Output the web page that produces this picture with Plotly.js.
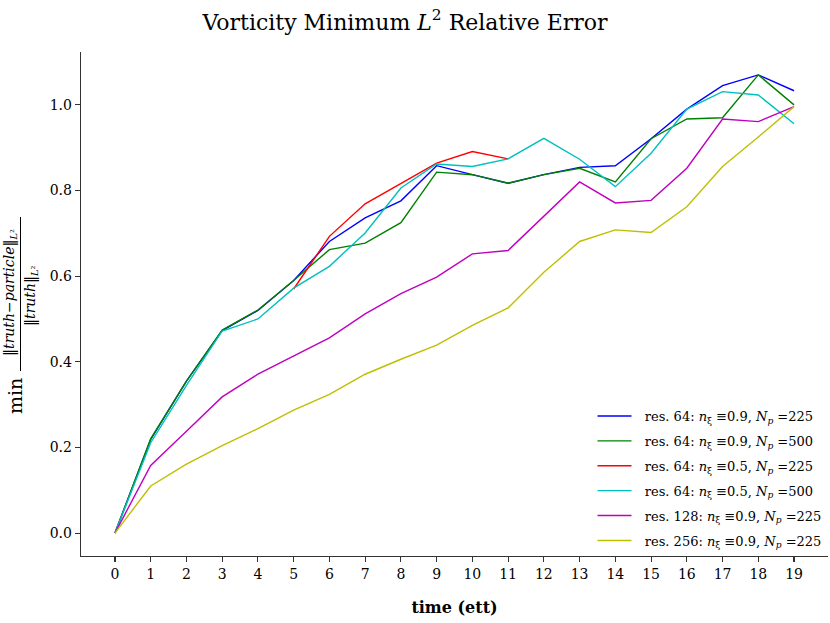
<!DOCTYPE html>
<html>
<head>
<meta charset="utf-8">
<script src="https://cdn.plot.ly/plotly-3.0.1.min.js"></script>
<style>html,body{margin:0;padding:0;background:#fff;}#chart{width:830px;height:623px;}</style>
</head>
<body>
<div id="chart"></div>
<script>
const time = [0,1,2,3,4,5,6,7,8,9,10,11,12,13,14,15,16,17,18,19];
const res64_09_225 = [0.0,0.219,0.355,0.473,0.520,0.590,0.681,0.736,0.776,0.858,0.837,0.817,0.837,0.854,0.858,0.921,0.990,1.045,1.070,1.033];
const res64_09_500 = [0.0,0.220,0.355,0.474,0.521,0.590,0.662,0.677,0.725,0.843,0.837,0.817,0.837,0.852,0.820,0.921,0.967,0.970,1.070,1.000];
const res64_05_225 = [null,null,null,null,null,0.570,0.693,0.769,0.816,0.864,0.891,0.874,null,null,null,null,null,null,null,null];
const res64_05_500 = [0.0,0.211,0.345,0.472,0.500,0.572,0.623,0.701,0.806,0.862,0.856,0.874,0.922,0.873,0.809,0.887,0.990,1.031,1.023,0.956];
const res128_09_225 = [0.0,0.158,0.238,0.318,0.371,0.413,0.456,0.512,0.559,0.598,0.652,0.660,0.741,0.820,0.771,0.777,0.852,0.967,0.961,0.996];
const res256_09_225 = [0.0,0.110,0.161,0.204,0.244,0.287,0.324,0.371,0.406,0.439,0.485,0.526,0.609,0.681,0.708,0.702,0.762,0.856,0.925,0.996];

const seriesNames = [
  "res. 64: <i>n</i><sub>ξ</sub> ≡0.9, <i>N</i><sub><i>p</i></sub> =225",
  "res. 64: <i>n</i><sub>ξ</sub> ≡0.9, <i>N</i><sub><i>p</i></sub> =500",
  "res. 64: <i>n</i><sub>ξ</sub> ≡0.5, <i>N</i><sub><i>p</i></sub> =225",
  "res. 64: <i>n</i><sub>ξ</sub> ≡0.5, <i>N</i><sub><i>p</i></sub> =500",
  "res. 128: <i>n</i><sub>ξ</sub> ≡0.9, <i>N</i><sub><i>p</i></sub> =225",
  "res. 256: <i>n</i><sub>ξ</sub> ≡0.9, <i>N</i><sub><i>p</i></sub> =225"
];
const seriesData = [res64_09_225,res64_09_500,res64_05_225,res64_05_500,res128_09_225,res256_09_225];
const seriesColors = ["#0000ff","#008000","#ff0000","#00bfbf","#bf00bf","#bfbf00"];

const traces = seriesData.map((d,i)=>({
  x: time, y: d, type:'scatter', mode:'lines', name: "\u00a0\u00a0" + seriesNames[i],
  legendgroup: 'g' + i,
  line:{color:seriesColors[i], width:1.4}, connectgaps:false
}));

const FONT = '"DejaVu Serif", "Liberation Serif", serif';
const W = 830, H = 623, L = 81, R = 2, T = 52, B = 67;
const pw = W-L-R, ph = H-T-B;
const px = p => (p-L)/pw;
const py = q => (H-B-q)/ph;

const layout = {
  width: W, height: H,
  margin:{l:L, r:R, t:T, b:B},
  paper_bgcolor:'#fff', plot_bgcolor:'#fff',
  font:{family:FONT, size:14, color:'#000'},
  title:{text:"Vorticity Minimum <i>L</i><sup>2</sup> Relative Error", font:{family:FONT, size:22, color:'#000'}, x:405/830, xref:'container', xanchor:'center', y:1-22/623, yref:'container', yanchor:'middle'},
  showlegend:true,
  legend:{x:0.998, y:0.0, xanchor:'right', yanchor:'bottom', bgcolor:'rgba(255,255,255,0)', font:{family:FONT, size:13, color:'#000'}, tracegroupgap:5, itemwidth:34},
  xaxis:{
    range:[-0.95,19.95], tickmode:'array', tickvals:time, ticktext:time.map(String),
    showgrid:false, zeroline:false, showline:true, linecolor:'#333', linewidth:1.3,
    ticks:'outside', ticklen:5, tickwidth:1.1, tickcolor:'#333',
    tickfont:{family:FONT, size:14, color:'#000'},
    title:{text:"<b>time (ett)</b>", font:{family:FONT, size:16, color:'#000'}, standoff:20}
  },
  yaxis:{
    range:[-0.0535,1.1235], tickmode:'array', tickvals:[0,0.2,0.4,0.6,0.8,1.0], ticktext:['0.0','0.2','0.4','0.6','0.8','1.0'],
    showgrid:false, zeroline:false, showline:true, linecolor:'#333', linewidth:1.3,
    ticks:'outside', ticklen:5, tickwidth:1.1, tickcolor:'#333',
    tickfont:{family:FONT, size:14, color:'#000'}
  },
  annotations:[
    {xref:'paper', yref:'paper', x:px(15), y:py(396), text:"min", textangle:-90, showarrow:false, xanchor:'center', yanchor:'middle', font:{family:FONT, size:19, color:'#000'}},
    {xref:'paper', yref:'paper', x:px(10), y:py(293), text:"‖<i>truth</i>−<i>particle</i>‖<sub><i>L</i>²</sub>", textangle:-90, showarrow:false, xanchor:'center', yanchor:'middle', font:{family:FONT, size:14, color:'#000'}},
    {xref:'paper', yref:'paper', x:px(31), y:py(296), text:"‖<i>truth</i>‖<sub><i>L</i>²</sub>", textangle:-90, showarrow:false, xanchor:'center', yanchor:'middle', font:{family:FONT, size:14, color:'#000'}}
  ],
  shapes:[
    {type:'line', xref:'paper', yref:'paper', x0:px(20.5), x1:px(20.5), y0:py(217), y1:py(371), line:{color:'#000', width:1}}
  ]
};

Plotly.newPlot('chart', traces, layout, {displayModeBar:false, staticPlot:true});
</script>
</body>
</html>
